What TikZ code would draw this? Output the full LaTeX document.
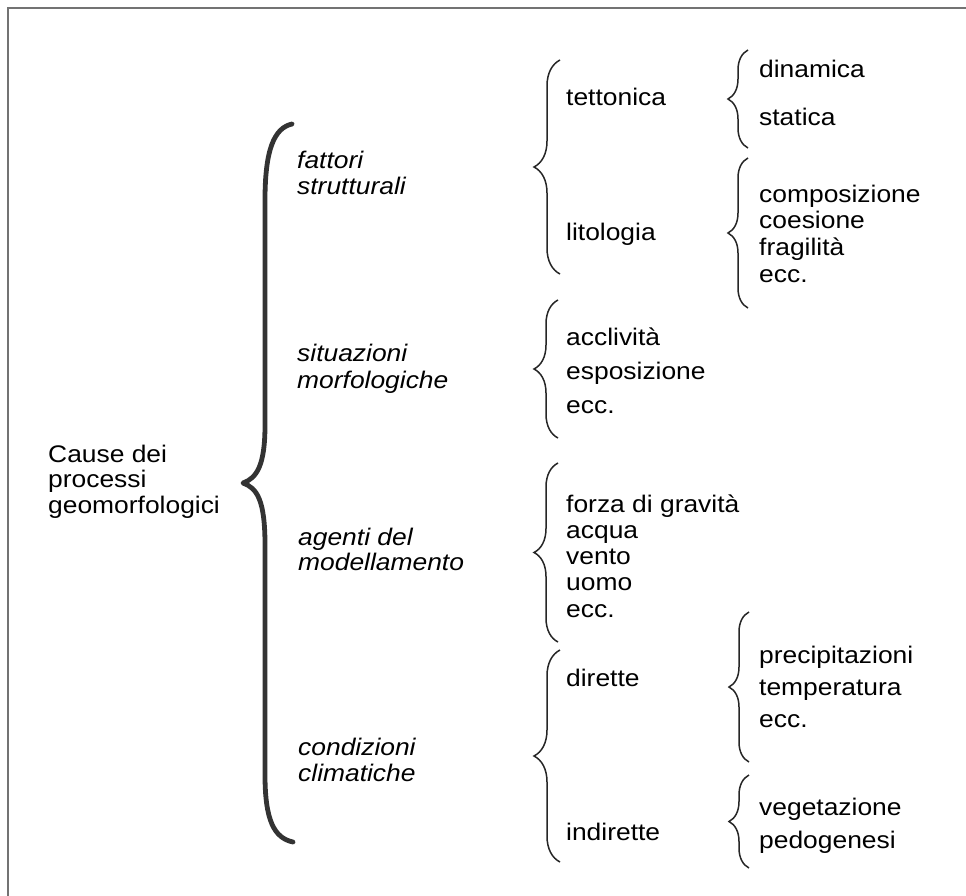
\documentclass[tikz,border=0pt]{standalone}
\usepackage{fontspec}
\setmainfont{Liberation Sans}[FakeStretch=1.1]
\usetikzlibrary{decorations.pathreplacing}
\newcommand\lns[2]{\vtop{\baselineskip=#1\relax\lineskiplimit=-100pt\relax\let\\\cr\halign{##\hfil\cr#2\crcr}}}
\begin{document}
\begin{tikzpicture}[x=1pt,y=-1pt,
  txt/.style={anchor=base west,inner sep=0pt,font=\fontsize{24}{26}\selectfont},
  itxt/.style={txt,font=\fontsize{24}{26}\selectfont\itshape},
  brc/.style={decorate,decoration={brace,amplitude=#1,mirror},line width=1.5pt,black!85},
  bigbrc/.style={line width=4.8pt,line cap=round,line join=round,black!80},
  frame/.style={draw=black!55,line width=1.4pt}]
\useasboundingbox (0,0) rectangle (966,895);
\clip (0,0) rectangle (966,895);
\fill[white] (0,0) rectangle (966,895);
\draw[frame] (8,8) rectangle (1010,1000);

% root
\node[txt] (root) at (48,462) {\lns{25.7pt}{Cause dei\\processi\\geomorfologici}};

% big brace
\coordinate (Bt) at (292,124);
\coordinate (Btip) at (243,483);
\coordinate (Bb) at (293,842);
\draw[bigbrc] (Bt) .. controls (274,128) and (265,150) .. (265,200) -- (265,425)
  .. controls (265,465) and (257,478) .. (Btip)
  .. controls (257,488) and (265,500) .. (265,545) -- (265,775)
  .. controls (265,820) and (274,838) .. (Bb);

% level 2
\node[itxt] (fs) at (297,168) {\lns{26.7pt}{fattori\\strutturali}};
\node[itxt] (sm) at (297,361) {\lns{27pt}{situazioni\\morfologiche}};
\node[itxt] (am) at (298,545) {\lns{25.7pt}{agenti del\\modellamento}};
\node[itxt] (cc) at (298,755) {\lns{26.5pt}{condizioni\\climatiche}};

% level 3 braces
\coordinate (b1t) at (560,60);  \coordinate (b1b) at (560,274);
\coordinate (b2t) at (558,300); \coordinate (b2b) at (558,438);
\coordinate (b3t) at (558,463); \coordinate (b3b) at (558,642);
\coordinate (b4t) at (560,650); \coordinate (b4b) at (560,862);
\draw[brc=26pt] (b1t) -- (b1b);
\draw[brc=24pt] (b2t) -- (b2b);
\draw[brc=24pt] (b3t) -- (b3b);
\draw[brc=26pt] (b4t) -- (b4b);

% level 3 text
\node[txt] (tet) at (566,105) {tettonica};
\node[txt] (lit) at (566,240) {litologia};
\node[txt] (morf) at (566,345) {\lns{34pt}{acclività\\esposizione\\ecc.}};
\node[txt] (ag) at (566,512) {\lns{26.3pt}{forza di gravità\\acqua\\vento\\uomo\\ecc.}};
\node[txt] (dir) at (566,686) {dirette};
\node[txt] (ind) at (566,840) {indirette};

% level 4 braces
\coordinate (c1t) at (748,50);  \coordinate (c1b) at (748,148);
\coordinate (c2t) at (748,158); \coordinate (c2b) at (748,308);
\coordinate (c3t) at (749,612); \coordinate (c3b) at (749,762);
\coordinate (c4t) at (749,775); \coordinate (c4b) at (749,868);
\draw[brc=20pt] (c1t) -- (c1b);
\draw[brc=20pt] (c2t) -- (c2b);
\draw[brc=20pt] (c3t) -- (c3b);
\draw[brc=20pt] (c4t) -- (c4b);

% level 4 text
\node[txt] (din) at (759,77) {\lns{48pt}{dinamica\\statica}};
\node[txt] (lito) at (759,202) {\lns{26.7pt}{composizione\\coesione\\fragilità\\ecc.}};
\node[txt] (prec) at (759,663) {\lns{32pt}{precipitazioni\\temperatura\\ecc.}};
\node[txt] (veg) at (759,815) {\lns{33pt}{vegetazione\\pedogenesi}};
\end{tikzpicture}
\end{document}
